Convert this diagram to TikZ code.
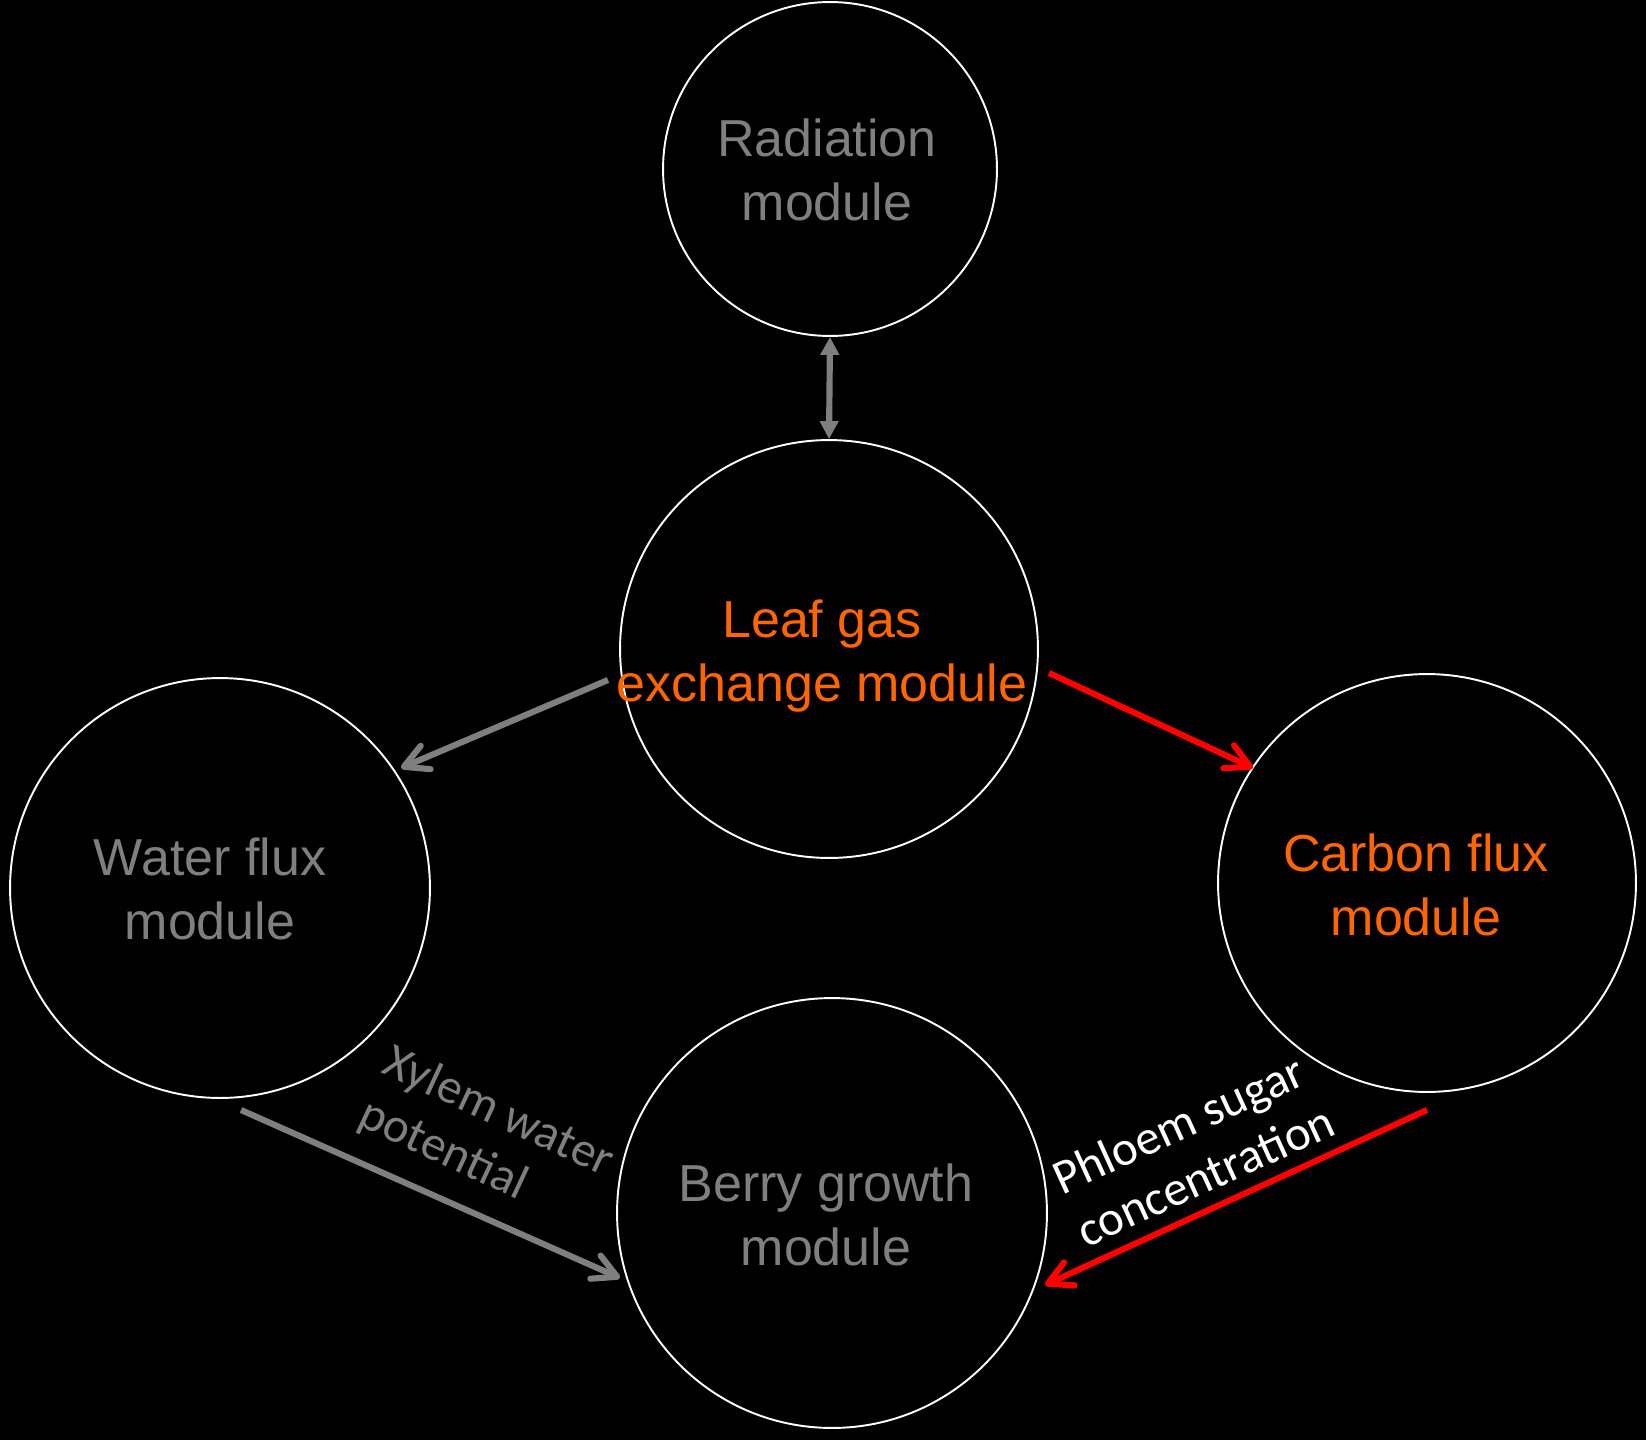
\documentclass[tikz,border=0pt]{standalone}
\usepackage{fontspec}
\setmainfont{Liberation Sans}
\newfontfamily\calibri{Carlito}
\usetikzlibrary{arrows.meta,calc}
\definecolor{modgray}{HTML}{7F7F7F}
\definecolor{modorange}{HTML}{FF6600}
\definecolor{arrred}{HTML}{FF0000}
\begin{document}
\begin{tikzpicture}[x=0.02cm,y=-0.02cm,
  module/.style={circle,draw=white,line width=1.1pt,inner sep=0pt},
  modtext/.style={font=\fontsize{29.6}{36.4}\selectfont,align=center,inner sep=0pt,anchor=base},
  labtext/.style={font=\calibri\fontsize{27.9}{33}\selectfont,align=left,inner sep=0pt},
  barb/.style={line width=3.5pt,-{Straight Barb[length=13.5pt,width=14.4pt,round]}},
  link/.style={line width=3.5pt,{Triangle[length=10.2pt,width=10.2pt]}-{Triangle[length=10.2pt,width=10.2pt]}}
]
\fill[black] (0,0) rectangle (1646,1440);
\useasboundingbox (0,0) rectangle (1646,1440);

% modules
\node[module,minimum size=6.68cm] (rad) at (830,169) {};
\node[module,minimum size=8.36cm] (leaf) at (829,649) {};
\node[module,minimum size=8.4cm] (water) at (220,888) {};
\node[module,minimum size=8.36cm] (carbon) at (1427,883) {};
\node[module,minimum size=8.6cm] (berry) at (832,1213) {};

% module texts (anchor base = baseline of the last line)
\node[modtext,text=modgray] (radtext) at (827,220) {Radiation\\module};
\node[modtext,text=modorange] (leaftext) at (822,701) {Leaf gas\\exchange module};
\node[modtext,text=modgray] (watertext) at (210,939) {Water flux\\module};
\node[modtext,text=modorange] (carbontext) at (1416,935) {Carbon flux\\module};
\node[modtext,text=modgray] (berrytext) at (826,1265) {Berry growth\\module};

% connectors
\draw[link,modgray] (rad.south) -- (leaf.north);
\draw[barb,modgray] ($(leaf.center)+(-221,31)$) -- ($(water.center)+(181,-120)$);
\draw[barb,arrred] ($(leaf.center)+(220,24)$) -- ($(carbon.center)+(-174,-115)$);
\draw[barb,modgray] ($(water.center)+(21,222)$) -- ($(berry.center)+(-212,65)$);
\draw[barb,arrred] ($(carbon.center)+(0,227)$) -- ($(berry.center)+(213,72)$);

% labels
\node[labtext,text=modgray,rotate=-25] (xylem) at (486,1139) {Xylem water\\potential};
\node[labtext,text=white,rotate=24.5] (phloem) at (1193,1149) {Phloem sugar\\concentration};
\end{tikzpicture}
\end{document}
